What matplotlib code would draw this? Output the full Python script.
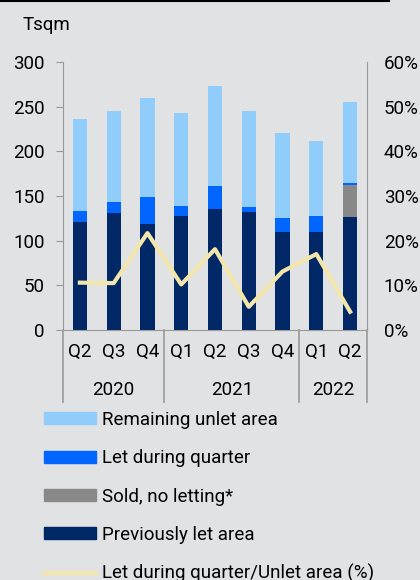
import matplotlib.pyplot as plt
import matplotlib.patches as mpatches
from matplotlib.lines import Line2D
from matplotlib.ticker import FuncFormatter

plt.rcParams['font.family'] = ['Roboto', 'DejaVu Sans']

quarters = ['Q2', 'Q3', 'Q4', 'Q1', 'Q2', 'Q3', 'Q4', 'Q1', 'Q2']
years = ['2020', '2021', '2022']
year_spans = [(0, 2), (3, 6), (7, 8)]

prev_let = [121, 131, 119, 128, 136, 132, 110, 110, 127]
sold = [0, 0, 0, 0, 0, 0, 0, 0, 35]
let_quarter = [12, 12, 30, 11, 25, 6, 15, 18, 3]
unlet = [103, 102, 111, 104, 112, 107, 96, 84, 90]
ratio = [10.6, 10.5, 21.7, 10.2, 18.1, 5.2, 13.1, 17.0, 4.1]

c_unlet = '#90cdfb'
c_let = '#0066ff'
c_sold = '#888888'
c_prev = '#002866'
c_line = '#f2e6aa'
bg = '#e1e2e4'
grey = '#999999'
fs = 13.5

fig = plt.figure(figsize=(4.2, 5.8), dpi=100, facecolor=bg)
ax = fig.add_axes([63/420, 1-330/580, 304/420, 268/580], facecolor=bg)

x = list(range(len(quarters)))
w = 0.42
b1 = prev_let
b2 = [a + b for a, b in zip(b1, sold)]
b3 = [a + b for a, b in zip(b2, let_quarter)]
ax.bar(x, prev_let, w, color=c_prev)
ax.bar(x, sold, w, bottom=b1, color=c_sold)
ax.bar(x, let_quarter, w, bottom=b2, color=c_let)
ax.bar(x, unlet, w, bottom=b3, color=c_unlet)

ax.set_xlim(-0.5, len(quarters) - 0.5)
ax.set_ylim(0, 300)
ax.set_yticks(range(0, 301, 50))
ax.set_xticks([])
for s in ['top', 'right']:
    ax.spines[s].set_visible(False)
ax.spines['left'].set_color(grey)
ax.spines['bottom'].set_color(grey)
ax.tick_params(axis='y', length=5, color=grey, labelsize=fs, pad=8)

ax2 = ax.twinx()
ax2.plot(x, ratio, color=c_line, lw=3)
ax2.set_ylim(0, 60)
ax2.set_yticks(range(0, 61, 10))
ax2.yaxis.set_major_formatter(FuncFormatter(lambda v, p: f'{v:.0f}%'))
ax2.tick_params(axis='y', length=0, labelsize=fs, pad=12)
for s in ['top', 'left', 'bottom']:
    ax2.spines[s].set_visible(False)
ax2.spines['right'].set_color(grey)

# category labels and groups
tr = ax.get_xaxis_transform()
for i, q in enumerate(quarters):
    ax.text(i, -0.082, q, transform=tr, ha='center', va='center', fontsize=fs)
for yr, (a, b) in zip(years, year_spans):
    ax.text((a + b) / 2, -0.225, yr, transform=tr, ha='center', va='center', fontsize=fs)
for sep in [-0.5, 2.5, 6.5, 8.5]:
    ax.add_line(Line2D([sep, sep], [0, -0.269], transform=tr, color=grey, lw=1.2, clip_on=False))

fig.text(23/420, 1-25/580, 'Tsqm', fontsize=fs, va='center')
fig.add_artist(Line2D([0, 389/420], [1-1/580, 1-1/580], color='black', lw=1.5))

handles = [mpatches.Patch(color=c_unlet), mpatches.Patch(color=c_let),
           mpatches.Patch(color=c_sold), mpatches.Patch(color=c_prev),
           Line2D([], [], color=c_line, lw=3)]
labels = ['Remaining unlet area', 'Let during quarter', 'Sold, no letting*',
          'Previously let area', 'Let during quarter/Unlet area (%)']
fig.legend(handles, labels, loc='upper left', bbox_to_anchor=(44/420, 1-411/580),
           frameon=False, fontsize=fs, handlelength=2.77, handleheight=0.59,
           handletextpad=0.3, labelspacing=1.08, borderpad=0, borderaxespad=0)

fig.savefig('out.png', dpi=100, facecolor=bg)
